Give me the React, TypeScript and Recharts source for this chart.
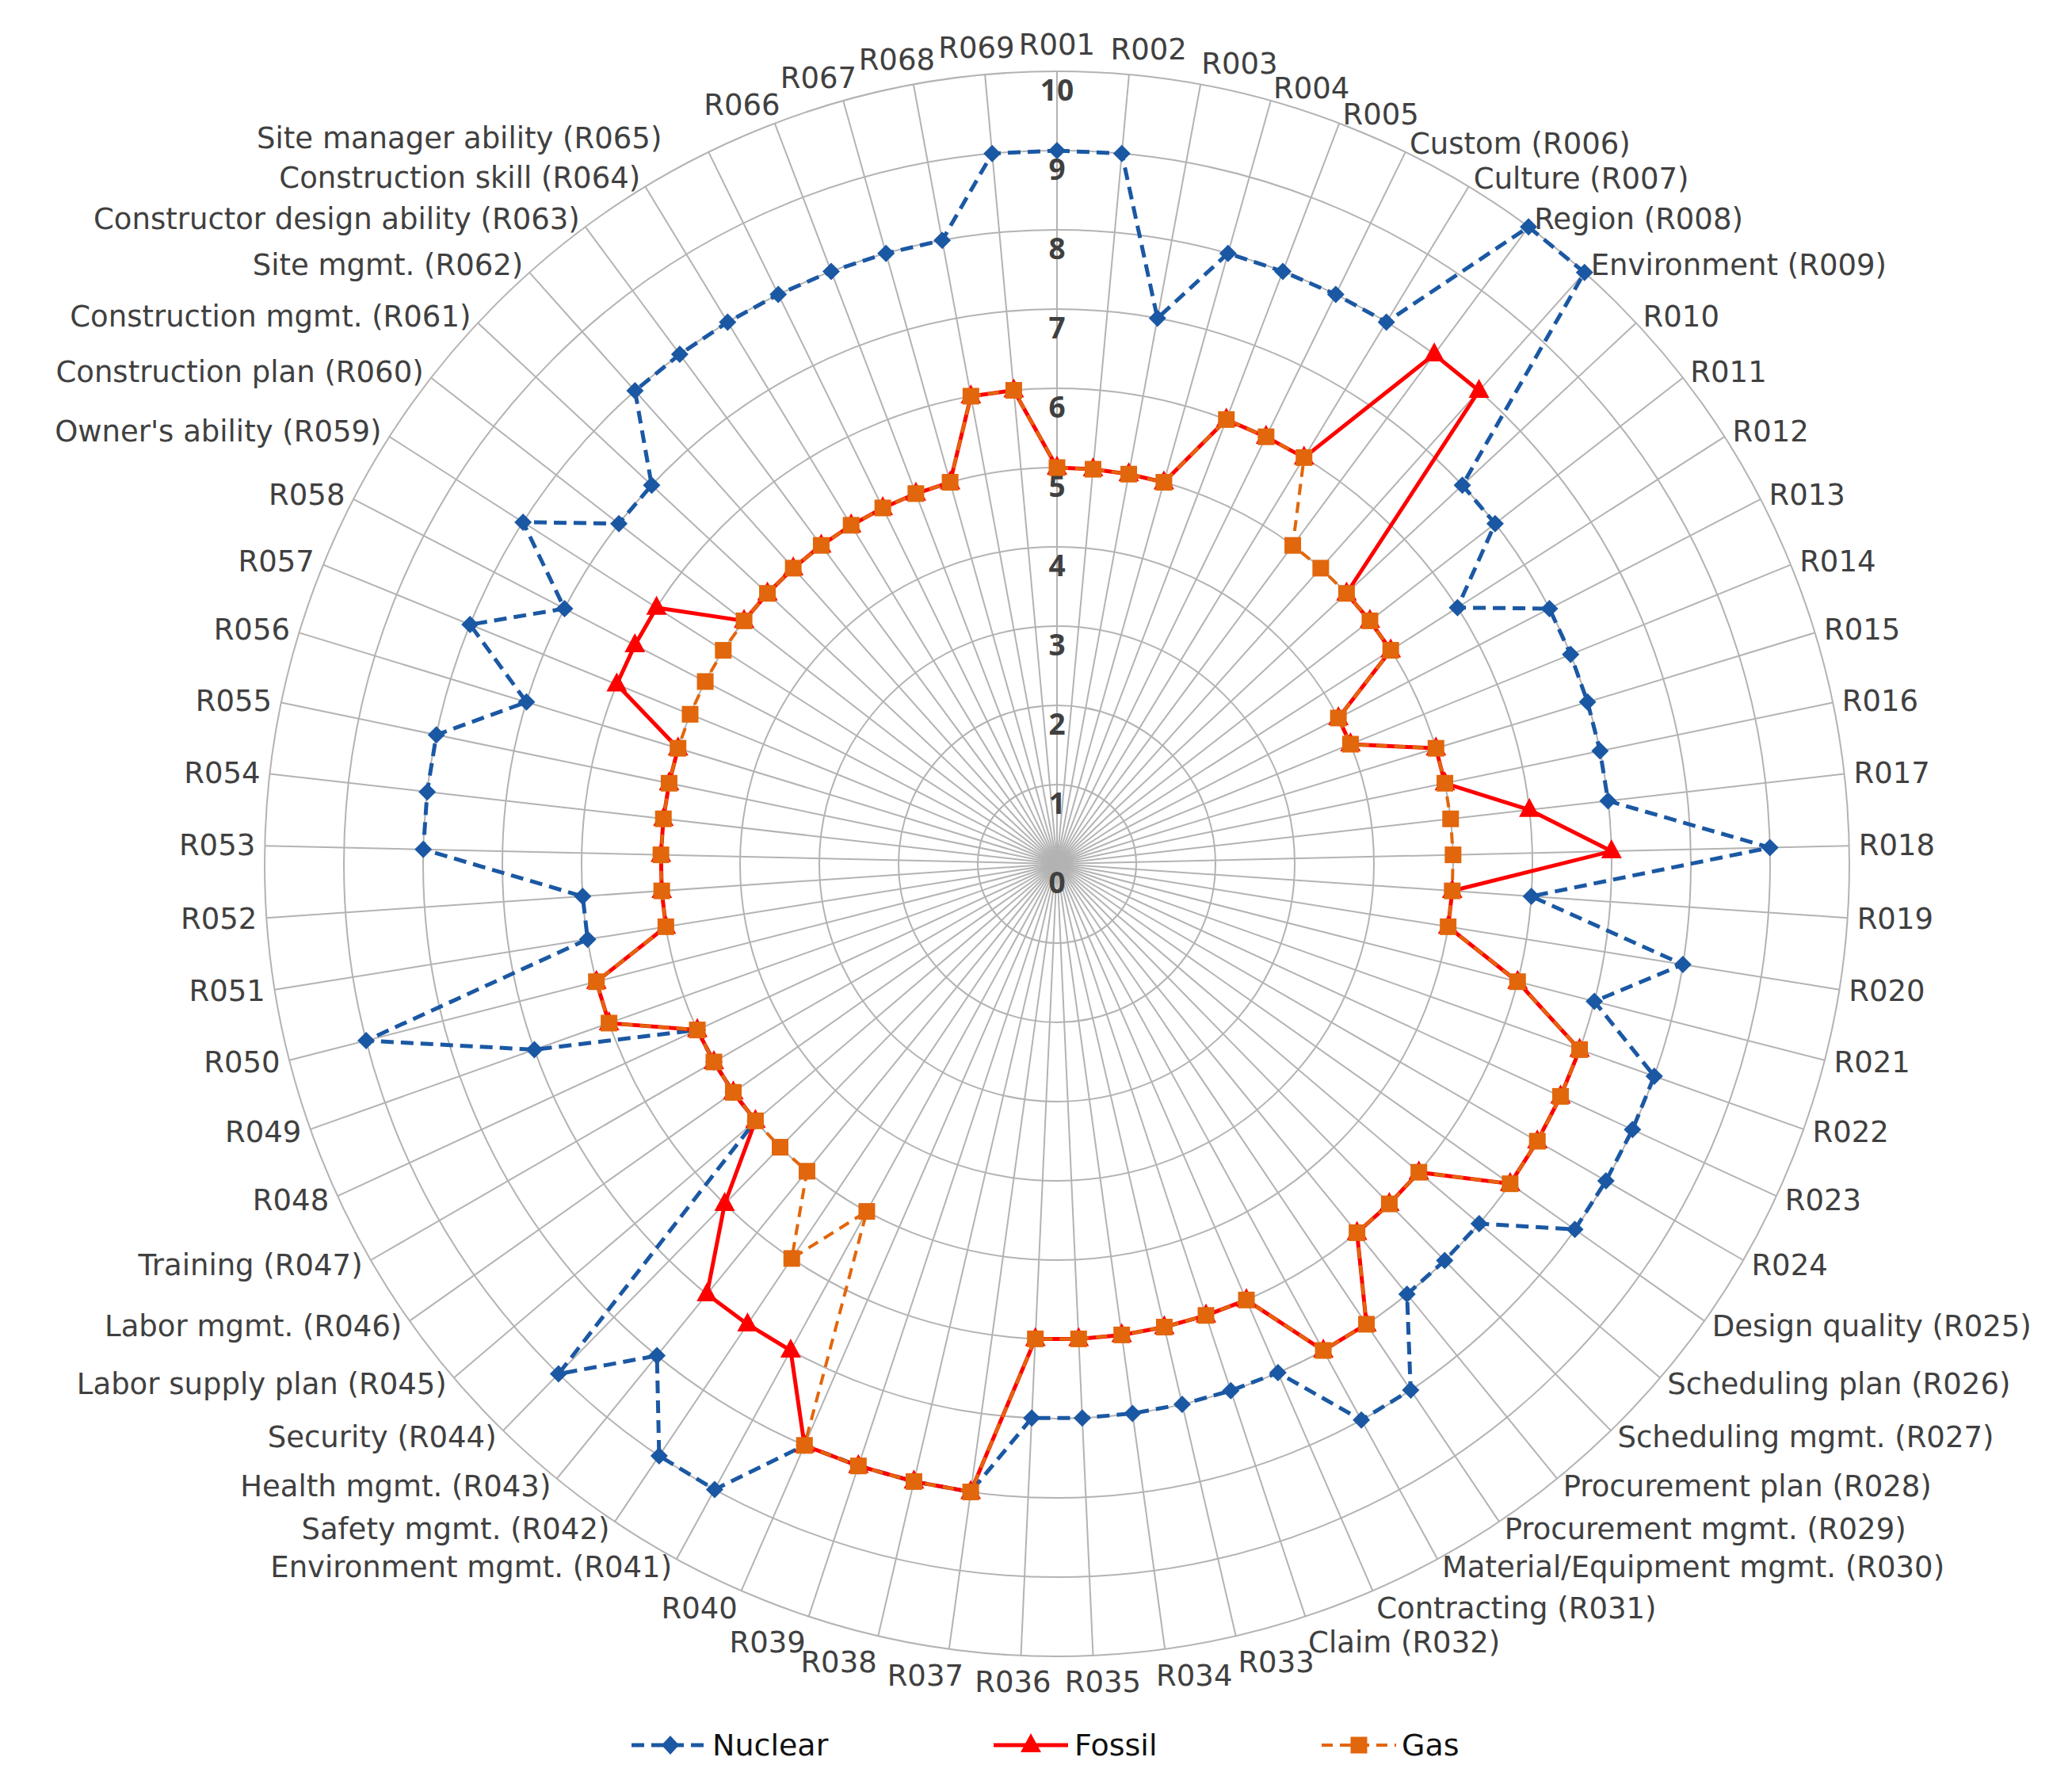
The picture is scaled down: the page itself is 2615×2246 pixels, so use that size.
import React from 'react';
import { RadarChart, Radar, PolarGrid, PolarAngleAxis, PolarRadiusAxis } from 'recharts';

const categories = [
  'R001','R002','R003','R004','R005','R006','R007','R008','R009','R010',
  'R011','R012','R013','R014','R015','R016','R017','R018','R019','R020',
  'R021','R022','R023','R024','R025','R026','R027','R028','R029','R030',
  'R031','R032','R033','R034','R035','R036','R037','R038','R039','R040',
  'R041','R042','R043','R044','R045','R046','R047','R048','R049','R050',
  'R051','R052','R053','R054','R055','R056','R057','R058','R059','R060',
  'R061','R062','R063','R064','R065','R066','R067','R068','R069',
];

const categoryLabels = [
  'R001','R002','R003','R004','R005','Custom (R006)','Culture (R007)','Region (R008)','Environment (R009)','R010',
  'R011','R012','R013','R014','R015','R016','R017','R018','R019','R020',
  'R021','R022','R023','R024','Design quality (R025)','Scheduling plan (R026)','Scheduling mgmt. (R027)','Procurement plan (R028)','Procurement mgmt. (R029)','Material/Equipment mgmt. (R030)',
  'Contracting (R031)','Claim (R032)','R033','R034','R035','R036','R037','R038','R039','R040',
  'Environment mgmt. (R041)','Safety mgmt. (R042)','Health mgmt. (R043)','Security (R044)','Labor supply plan (R045)','Labor mgmt. (R046)','Training (R047)','R048','R049','R050',
  'R051','R052','R053','R054','R055','R056','R057','R058',"Owner's ability (R059)",'Construction plan (R060)',
  'Construction mgmt. (R061)','Site mgmt. (R062)','Constructor design ability (R063)','Construction skill (R064)','Site manager ability (R065)','R066','R067','R068','R069',
];

const nuclearValues = [
  9,9,7,8,8,8,8,10,10,7,
  7,6,7,7,7,7,7,9,6,8,
  7,8,8,8,8,7,7,7,8,8,
  7,7,7,7,7,7,8,8,8,8,
  9,9,8,9,5,5,5,5,7,9,
  6,6,8,8,8,7,8,7,8,7,
  7,8,8,8,8,8,8,8,9,
];

const fossilValues = [
  5,5,5,5,6,6,6,8,8,5,
  5,5,4,4,5,5,6,7,5,5,
  6,7,7,7,7,6,6,6,7,7,
  6,6,6,6,6,6,8,8,8,8,
  7,7,7,6,5,5,5,5,6,6,
  5,5,5,5,5,5,6,6,6,5,
  5,5,5,5,5,5,5,6,6,
];

const gasValues = [
  5,5,5,5,6,6,6,5,5,5,
  5,5,4,4,5,5,5,5,5,5,
  6,7,7,7,7,6,6,6,7,7,
  6,6,6,6,6,6,8,8,8,8,
  5,6,5,5,5,5,5,5,6,6,
  5,5,5,5,5,5,5,5,5,5,
  5,5,5,5,5,5,5,6,6,
];

const radiusTicks = [0, 1, 2, 3, 4, 5, 6, 7, 8, 9, 10];

const data = categories.map((code, i) => ({
  code,
  label: categoryLabels[i],
  nuclear: nuclearValues[i],
  fossil: fossilValues[i],
  gas: gasValues[i],
}));

const W = 2615;
const H = 2246;
const CX = 1334;
const CY = 1090;
const OUTER = 1000;
const LABEL_FONT = 'DejaVu Sans, Noto Sans, sans-serif';
const TICK_FONT = 'Noto Sans, Open Sans, DejaVu Sans, sans-serif';
const F = 37;
const BLUE = '#1b58a3';
const RED = '#ff0000';
const ORANGE = '#e2660c';
const TEXT = '#404040';

const clamp = (v: number, lo: number, hi: number) => Math.max(lo, Math.min(hi, v));

function AngleTick(props: any) {
  const { x, y, payload } = props;
  const a = (payload.coordinate * Math.PI) / 180;
  const s = Math.cos(a);
  const c = Math.sin(a);
  const label = String(payload.value);
  const w = label.length * 0.64 * F;
  let ax: number;
  if (s < 0 && c > 0) ax = clamp(s * 2.2, -1, 1);
  else if (s < 0) ax = clamp(s * 4.4, -1, 1);
  else ax = clamp(s * 5.5, -1, 1);
  let anchor: 'start' | 'middle' | 'end' = 'middle';
  let tx = x + (ax * w) / 2;
  if (ax >= 1) {
    anchor = 'start';
    tx = x;
  } else if (ax <= -1) {
    anchor = 'end';
    tx = x;
  }
  let off = 0;
  if (c > 0) {
    off = s < 0 ? -22 * clamp((c - 0.85) / 0.15, 0, 1) : -22 * clamp((c - 0.955) / 0.045, 0, 1);
  } else {
    off = 22 * clamp((-c - 0.88) / 0.07, 0, 1);
  }
  return (
    <text
      x={tx}
      y={y + off}
      textAnchor={anchor}
      dominantBaseline="central"
      fontSize={F}
      fontFamily={LABEL_FONT}
      fill={TEXT}
    >
      {label}
    </text>
  );
}

function RadiusTick(props: any) {
  const { x, y, payload } = props;
  return (
    <text
      x={x}
      y={y + 22}
      textAnchor="middle"
      dominantBaseline="central"
      fontSize={37}
      fontWeight="bold"
      fontFamily={TICK_FONT}
      fill={TEXT}
    >
      {payload.value}
    </text>
  );
}

const diamondDot = (p: any) => (
  <polygon
    key={`n-${p.index}`}
    points={`${p.cx},${p.cy - 11} ${p.cx + 11},${p.cy} ${p.cx},${p.cy + 11} ${p.cx - 11},${p.cy}`}
    fill={BLUE}
  />
);

const triangleDot = (p: any) => (
  <polygon
    key={`f-${p.index}`}
    points={`${p.cx},${p.cy - 15} ${p.cx + 13},${p.cy + 9} ${p.cx - 13},${p.cy + 9}`}
    fill={RED}
  />
);

const squareDot = (p: any) => (
  <rect key={`g-${p.index}`} x={p.cx - 10.5} y={p.cy - 10.5} width={21} height={21} fill={ORANGE} />
);

function LegendBar() {
  const yc = 40;
  return (
    <svg width={W} height={80} style={{ position: 'absolute', left: 0, top: 2162 }}>
      <line x1={797} y1={yc} x2={895} y2={yc} stroke={BLUE} strokeWidth={5} strokeDasharray="16 9" />
      <polygon points={`846,${yc - 12} 857,${yc} 846,${yc + 12} 835,${yc}`} fill={BLUE} />
      <text x={899} y={yc} dominantBaseline="central" fontSize={38} fontFamily={LABEL_FONT} fill="#111111">Nuclear</text>

      <line x1={1254} y1={yc} x2={1348} y2={yc} stroke={RED} strokeWidth={5} />
      <polygon points={`1301,${yc - 15} 1314,${yc + 9} 1288,${yc + 9}`} fill={RED} />
      <text x={1356} y={yc} dominantBaseline="central" fontSize={38} fontFamily={LABEL_FONT} fill="#111111">Fossil</text>

      <line x1={1668} y1={yc} x2={1762} y2={yc} stroke={ORANGE} strokeWidth={4} strokeDasharray="14 9" />
      <rect x={1704.5} y={yc - 10.5} width={21} height={21} fill={ORANGE} />
      <text x={1769} y={yc} dominantBaseline="central" fontSize={38} fontFamily={LABEL_FONT} fill="#111111">Gas</text>
    </svg>
  );
}

export default function App() {
  return (
    <div style={{ position: 'absolute', left: 0, top: 0, width: W, height: H, background: '#ffffff' }}>
      <RadarChart
        width={W}
        height={H}
        data={data}
        cx={CX}
        cy={CY}
        outerRadius={OUTER}
        margin={{ top: 0, right: 0, bottom: 0, left: 0 }}
      >
        <PolarGrid gridType="circle" stroke="#b3b3b3" strokeWidth={2} />
        <PolarAngleAxis
          dataKey="label"
          axisLine={false}
          tickLine={false}
          tickSize={12}
          tick={<AngleTick />}
        />
        <PolarRadiusAxis
          angle={90}
          domain={[0, 10]}
          ticks={radiusTicks as any}
          tickCount={11}
          axisLine={false}
          tick={<RadiusTick />}
        />
        <Radar
          name="Nuclear"
          dataKey="nuclear"
          stroke={BLUE}
          strokeWidth={5}
          strokeDasharray="16 9"
          fill="none"
          fillOpacity={0}
          dot={diamondDot}
          isAnimationActive={false}
        />
        <Radar
          name="Fossil"
          dataKey="fossil"
          stroke={RED}
          strokeWidth={5}
          fill="none"
          fillOpacity={0}
          dot={triangleDot}
          isAnimationActive={false}
        />
        <Radar
          name="Gas"
          dataKey="gas"
          stroke={ORANGE}
          strokeWidth={4}
          strokeDasharray="14 9"
          fill="none"
          fillOpacity={0}
          dot={squareDot}
          isAnimationActive={false}
        />
      </RadarChart>
      <LegendBar />
    </div>
  );
}
